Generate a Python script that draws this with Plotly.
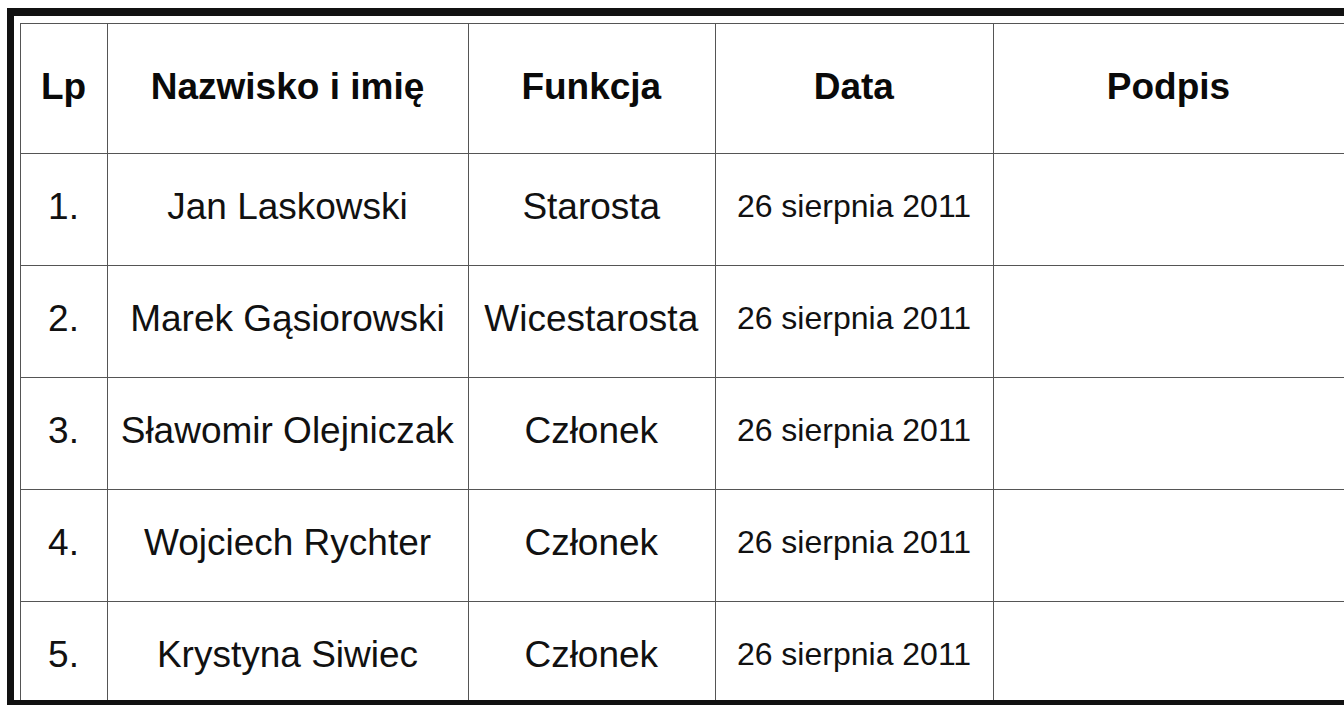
import plotly.graph_objects as go

W, H = 1344, 705

headers = ["Lp", "Nazwisko i imię", "Funkcja", "Data", "Podpis"]
lp = ["1.", "2.", "3.", "4.", "5."]
names = ["Jan Laskowski", "Marek Gąsiorowski", "Sławomir Olejniczak",
         "Wojciech Rychter", "Krystyna Siwiec"]
functions = ["Starosta", "Wicestarosta", "Członek", "Członek", "Członek"]
dates = ["26 sierpnia 2011"] * 5
signatures = ["", "", "", "", ""]

col_widths = [87, 361, 247, 278, 351]

font_family = "Liberation Sans, Arial, sans-serif"


def centred(text, size, bold=False):
    """Push the text down one (small) line so it sits mid-cell."""
    t = f"<b>{text}</b>" if bold else text
    return f"\u00a0<br><span style='font-size:{size}px'>{t}</span>"


header_vals = [centred(h, 37, bold=True) for h in headers]
cell_cols = [lp, names, functions, dates, signatures]
cell_sizes = [37, 37, 37, 32, 37]
cell_vals = [[centred(v, s) for v in col] for col, s in zip(cell_cols, cell_sizes)]

fig = go.Figure(go.Table(
    domain=dict(x=[20 / W, 1.0], y=[5 / H, 1 - 23 / H]),
    columnwidth=col_widths,
    header=dict(
        values=header_vals,
        align="center",
        height=130,
        font=dict(family=font_family, size=31, color="#0a0a0a"),
        fill_color="white",
        line=dict(color="#555", width=1),
    ),
    cells=dict(
        values=cell_vals,
        align="center",
        height=112,
        font=dict(family=font_family, size=[26.5, 26.5, 26.5, 25, 26.5], color="#111"),
        fill_color="white",
        line=dict(color="#555", width=1),
    ),
))

# thick scan frame
fig.add_shape(type="rect", xref="paper", yref="paper",
              x0=7 / W, x1=1.0, y0=1 - 16 / H, y1=1 - 8 / H,
              fillcolor="#111", line_width=0, layer="above")
fig.add_shape(type="rect", xref="paper", yref="paper",
              x0=7 / W, x1=14 / W, y0=0, y1=1 - 8 / H,
              fillcolor="#111", line_width=0, layer="above")
fig.add_shape(type="rect", xref="paper", yref="paper",
              x0=7 / W, x1=1.0, y0=0, y1=5 / H,
              fillcolor="#111", line_width=0, layer="above")

fig.update_layout(
    width=W, height=H,
    margin=dict(l=0, r=0, t=0, b=0),
    paper_bgcolor="white",
    plot_bgcolor="white",
)

fig.write_html("out.html",
               config={"displayModeBar": False},
               post_script="document.body.style.margin='0px';"
                           "document.body.style.overflow='hidden';")
